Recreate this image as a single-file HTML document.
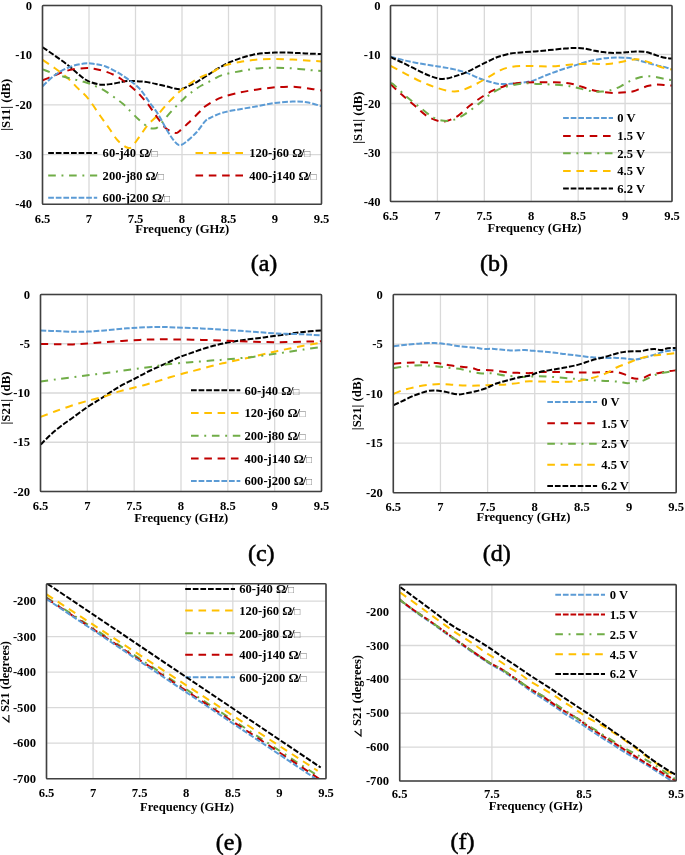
<!DOCTYPE html>
<html><head><meta charset="utf-8"><style>
html,body{margin:0;padding:0;background:#fff;}
svg{display:block;will-change:transform;}
.t{font-family:"Liberation Serif", serif;font-weight:bold;font-size:12.6px;fill:#000;}
.cap{font-family:"Liberation Serif", serif;font-size:24px;fill:#000;stroke:#000;stroke-width:0.55px;}
.sq{font-size:10px;font-weight:normal;fill:#707070;}
.yt{font-family:"Liberation Serif", serif;font-weight:bold;font-size:12.8px;fill:#000;}
</style></head><body>
<svg width="685" height="855" viewBox="0 0 685 855">
<rect width="685" height="855" fill="#fff"/>
<clipPath id="c1"><rect x="42.5" y="5.5" width="279.0" height="198.8"/></clipPath>
<line x1="42.50" y1="5.5" x2="42.50" y2="204.3" stroke="#d9d9d9" stroke-width="1.3"/>
<line x1="89.00" y1="5.5" x2="89.00" y2="204.3" stroke="#d9d9d9" stroke-width="1.3"/>
<line x1="135.50" y1="5.5" x2="135.50" y2="204.3" stroke="#d9d9d9" stroke-width="1.3"/>
<line x1="182.00" y1="5.5" x2="182.00" y2="204.3" stroke="#d9d9d9" stroke-width="1.3"/>
<line x1="228.50" y1="5.5" x2="228.50" y2="204.3" stroke="#d9d9d9" stroke-width="1.3"/>
<line x1="275.00" y1="5.5" x2="275.00" y2="204.3" stroke="#d9d9d9" stroke-width="1.3"/>
<line x1="321.50" y1="5.5" x2="321.50" y2="204.3" stroke="#d9d9d9" stroke-width="1.3"/>
<line x1="42.5" y1="5.50" x2="321.5" y2="5.50" stroke="#d9d9d9" stroke-width="1.3"/>
<line x1="42.5" y1="55.20" x2="321.5" y2="55.20" stroke="#d9d9d9" stroke-width="1.3"/>
<line x1="42.5" y1="104.90" x2="321.5" y2="104.90" stroke="#d9d9d9" stroke-width="1.3"/>
<line x1="42.5" y1="154.60" x2="321.5" y2="154.60" stroke="#d9d9d9" stroke-width="1.3"/>
<line x1="42.5" y1="204.30" x2="321.5" y2="204.30" stroke="#d9d9d9" stroke-width="1.3"/>
<line x1="48.2" y1="153" x2="97.2" y2="153" stroke="#000000" stroke-width="2.0" stroke-dasharray="5.70,1.90"/>
<text x="102.6" y="157.30" class="t">60-j40 Ω<tspan dx="-1.2">/</tspan><tspan class="sq" dx="-0.3">□</tspan></text>
<line x1="195.5" y1="153" x2="243.2" y2="153" stroke="#FFC000" stroke-width="2.0" stroke-dasharray="7.60,5.70"/>
<text x="249.2" y="157.30" class="t">120-j60 Ω<tspan dx="-1.2">/</tspan><tspan class="sq" dx="-0.3">□</tspan></text>
<line x1="48.2" y1="175.4" x2="97.2" y2="175.4" stroke="#70AD47" stroke-width="2.0" stroke-dasharray="7.60,5.70,1.90,5.70"/>
<text x="102.6" y="179.70" class="t">200-j80 Ω<tspan dx="-1.2">/</tspan><tspan class="sq" dx="-0.3">□</tspan></text>
<line x1="195.5" y1="175.4" x2="243.2" y2="175.4" stroke="#C00000" stroke-width="2.0" stroke-dasharray="7.60,5.70"/>
<text x="249.2" y="179.70" class="t">400-j140 Ω<tspan dx="-1.2">/</tspan><tspan class="sq" dx="-0.3">□</tspan></text>
<line x1="48.2" y1="197.7" x2="97.2" y2="197.7" stroke="#5B9BD5" stroke-width="2.0" stroke-dasharray="5.70,1.90"/>
<text x="102.6" y="202.00" class="t">600-j200 Ω<tspan dx="-1.2">/</tspan><tspan class="sq" dx="-0.3">□</tspan></text>
<path d="M42.60,47.20C44.60,48.58 50.42,52.53 54.60,55.50C58.78,58.47 63.80,61.95 67.70,65.00C71.60,68.05 74.58,71.12 78.00,73.80C81.42,76.48 84.32,79.28 88.20,81.10C92.08,82.92 97.17,84.27 101.30,84.70C105.43,85.13 108.62,84.30 113.00,83.70C117.38,83.10 122.33,81.42 127.60,81.10C132.87,80.78 139.33,81.20 144.60,81.80C149.87,82.40 154.82,83.73 159.20,84.70C163.58,85.67 167.85,86.88 170.90,87.60C173.95,88.32 175.57,88.80 177.50,89.00C179.43,89.20 180.58,89.33 182.50,88.80C184.42,88.27 186.55,86.97 189.00,85.80C191.45,84.63 194.13,83.55 197.20,81.80C200.27,80.05 204.00,77.48 207.40,75.30C210.80,73.12 214.17,70.75 217.60,68.70C221.03,66.65 224.27,64.72 228.00,63.00C231.73,61.28 235.95,59.75 240.00,58.40C244.05,57.05 248.22,55.78 252.30,54.90C256.38,54.02 260.72,53.48 264.50,53.10C268.28,52.72 271.20,52.68 275.00,52.60C278.80,52.52 283.20,52.52 287.30,52.60C291.40,52.68 295.82,52.92 299.60,53.10C303.38,53.28 306.35,53.55 310.00,53.70C313.65,53.85 319.58,53.95 321.50,54.00" fill="none" stroke="#000000" stroke-width="2.0" stroke-dasharray="5.70,1.90" clip-path="url(#c1)"/>
<path d="M42.60,59.90C44.60,61.25 50.42,64.95 54.60,68.00C58.78,71.05 63.80,74.80 67.70,78.20C71.60,81.60 74.58,85.00 78.00,88.40C81.42,91.80 84.45,93.95 88.20,98.60C91.95,103.25 96.98,111.32 100.50,116.30C104.02,121.28 106.38,124.42 109.30,128.50C112.22,132.58 114.93,137.58 118.00,140.80C121.07,144.02 125.28,146.93 127.70,147.80C130.12,148.67 130.62,147.75 132.50,146.00C134.38,144.25 136.45,140.80 139.00,137.30C141.55,133.80 144.88,128.50 147.80,125.00C150.72,121.50 153.30,119.80 156.50,116.30C159.70,112.80 163.38,107.92 167.00,104.00C170.62,100.08 174.63,96.02 178.20,92.80C181.77,89.58 184.77,87.27 188.40,84.70C192.03,82.13 195.87,79.58 200.00,77.40C204.13,75.22 209.45,73.45 213.20,71.60C216.95,69.75 218.03,67.92 222.50,66.30C226.97,64.68 234.17,63.02 240.00,61.90C245.83,60.78 251.67,60.10 257.50,59.60C263.33,59.10 269.15,58.90 275.00,58.90C280.85,58.90 286.77,59.30 292.60,59.60C298.43,59.90 305.18,60.40 310.00,60.70C314.82,61.00 319.58,61.28 321.50,61.40" fill="none" stroke="#FFC000" stroke-width="2.0" stroke-dasharray="7.60,5.70" clip-path="url(#c1)"/>
<path d="M42.60,69.40C44.60,70.13 50.17,72.33 54.60,73.80C59.03,75.27 64.33,76.87 69.20,78.20C74.07,79.53 79.42,80.47 83.80,81.80C88.18,83.13 91.85,84.62 95.50,86.20C99.15,87.78 102.23,89.20 105.70,91.30C109.17,93.40 113.38,96.68 116.30,98.80C119.22,100.92 121.17,102.25 123.20,104.00C125.23,105.75 125.87,106.67 128.50,109.30C131.13,111.93 135.78,116.88 139.00,119.80C142.22,122.72 145.47,125.35 147.80,126.80C150.13,128.25 151.25,128.50 153.00,128.50C154.75,128.50 155.97,128.83 158.30,126.80C160.63,124.77 164.08,119.67 167.00,116.30C169.92,112.93 172.87,109.67 175.80,106.60C178.73,103.53 181.77,100.45 184.60,97.90C187.43,95.35 189.98,93.37 192.80,91.30C195.62,89.23 198.33,87.32 201.50,85.50C204.67,83.68 208.30,82.15 211.80,80.40C215.30,78.65 217.80,76.53 222.50,75.00C227.20,73.47 234.17,72.30 240.00,71.20C245.83,70.10 251.67,68.98 257.50,68.40C263.33,67.82 269.15,67.70 275.00,67.70C280.85,67.70 286.77,68.00 292.60,68.40C298.43,68.80 305.18,69.67 310.00,70.10C314.82,70.53 319.58,70.85 321.50,71.00" fill="none" stroke="#70AD47" stroke-width="2.0" stroke-dasharray="7.60,5.70,1.90,5.70" clip-path="url(#c1)"/>
<path d="M42.60,80.40C44.60,79.55 50.17,77.02 54.60,75.30C59.03,73.58 64.33,71.28 69.20,70.10C74.07,68.92 79.67,68.43 83.80,68.20C87.93,67.97 90.35,68.13 94.00,68.70C97.65,69.27 101.80,70.27 105.70,71.60C109.60,72.93 113.75,74.63 117.40,76.70C121.05,78.77 124.68,81.80 127.60,84.00C130.52,86.20 132.95,88.20 134.90,89.90C136.85,91.60 137.15,91.85 139.30,94.20C141.45,96.55 144.93,100.32 147.80,104.00C150.67,107.68 153.58,112.35 156.50,116.30C159.42,120.25 162.22,124.93 165.30,127.70C168.38,130.47 172.67,132.32 175.00,132.90C177.33,133.48 177.13,132.80 179.30,131.20C181.47,129.60 184.78,126.37 188.00,123.30C191.22,120.23 195.77,115.60 198.60,112.80C201.43,110.00 202.32,108.55 205.00,106.50C207.68,104.45 211.63,102.12 214.70,100.50C217.77,98.88 219.18,98.13 223.40,96.80C227.62,95.47 234.32,93.73 240.00,92.50C245.68,91.27 251.67,90.27 257.50,89.40C263.33,88.53 270.62,87.72 275.00,87.30C279.38,86.88 280.30,86.97 283.80,86.90C287.30,86.83 291.63,86.60 296.00,86.90C300.37,87.20 305.75,88.12 310.00,88.70C314.25,89.28 319.58,90.12 321.50,90.40" fill="none" stroke="#C00000" stroke-width="2.0" stroke-dasharray="7.60,5.70" clip-path="url(#c1)"/>
<path d="M42.60,86.20C44.60,84.38 50.17,78.47 54.60,75.30C59.03,72.13 64.33,69.15 69.20,67.20C74.07,65.25 79.67,64.15 83.80,63.60C87.93,63.05 90.35,63.42 94.00,63.90C97.65,64.38 101.80,65.10 105.70,66.50C109.60,67.90 113.75,70.23 117.40,72.30C121.05,74.37 123.95,76.22 127.60,78.90C131.25,81.58 135.65,84.50 139.30,88.40C142.95,92.30 146.33,97.95 149.50,102.30C152.67,106.65 155.38,109.83 158.30,114.50C161.22,119.17 164.37,125.92 167.00,130.30C169.63,134.68 172.05,138.32 174.10,140.80C176.15,143.28 177.27,145.05 179.30,145.20C181.33,145.35 183.38,143.90 186.30,141.70C189.22,139.50 193.68,135.38 196.80,132.00C199.92,128.62 202.80,123.73 205.00,121.40C207.20,119.07 207.08,119.45 210.00,118.00C212.92,116.55 217.50,114.17 222.50,112.70C227.50,111.23 234.17,110.28 240.00,109.20C245.83,108.12 251.67,107.23 257.50,106.20C263.33,105.17 269.15,103.77 275.00,103.00C280.85,102.23 287.33,101.73 292.60,101.60C297.87,101.47 301.78,101.43 306.60,102.20C311.42,102.97 319.02,105.53 321.50,106.20" fill="none" stroke="#5B9BD5" stroke-width="2.0" stroke-dasharray="5.70,1.90" clip-path="url(#c1)"/>
<rect x="42.5" y="5.5" width="279.0" height="198.8" fill="none" stroke="#404040" stroke-width="1.6" rx="0.8"/>
<text x="42.50" y="222.5" class="t" text-anchor="middle">6.5</text>
<text x="89.00" y="222.5" class="t" text-anchor="middle">7</text>
<text x="135.50" y="222.5" class="t" text-anchor="middle">7.5</text>
<text x="182.00" y="222.5" class="t" text-anchor="middle">8</text>
<text x="228.50" y="222.5" class="t" text-anchor="middle">8.5</text>
<text x="275.00" y="222.5" class="t" text-anchor="middle">9</text>
<text x="321.50" y="222.5" class="t" text-anchor="middle">9.5</text>
<text x="32" y="9.60" class="t" text-anchor="end">0</text>
<text x="32" y="59.30" class="t" text-anchor="end">-10</text>
<text x="32" y="109.00" class="t" text-anchor="end">-20</text>
<text x="32" y="158.70" class="t" text-anchor="end">-30</text>
<text x="32" y="208.40" class="t" text-anchor="end">-40</text>
<text x="182.2" y="232.8" class="t" text-anchor="middle">Frequency (GHz)</text>
<text transform="translate(10,104.75) rotate(-90)" class="yt" text-anchor="middle">|S11| (dB)</text>
<text x="264" y="271" class="cap" text-anchor="middle">(a)</text>
<clipPath id="c2"><rect x="390.5" y="5.5" width="281.5" height="196.0"/></clipPath>
<line x1="390.50" y1="5.5" x2="390.50" y2="201.5" stroke="#d9d9d9" stroke-width="1.3"/>
<line x1="437.42" y1="5.5" x2="437.42" y2="201.5" stroke="#d9d9d9" stroke-width="1.3"/>
<line x1="484.33" y1="5.5" x2="484.33" y2="201.5" stroke="#d9d9d9" stroke-width="1.3"/>
<line x1="531.25" y1="5.5" x2="531.25" y2="201.5" stroke="#d9d9d9" stroke-width="1.3"/>
<line x1="578.17" y1="5.5" x2="578.17" y2="201.5" stroke="#d9d9d9" stroke-width="1.3"/>
<line x1="625.08" y1="5.5" x2="625.08" y2="201.5" stroke="#d9d9d9" stroke-width="1.3"/>
<line x1="672.00" y1="5.5" x2="672.00" y2="201.5" stroke="#d9d9d9" stroke-width="1.3"/>
<line x1="390.5" y1="5.50" x2="672" y2="5.50" stroke="#d9d9d9" stroke-width="1.3"/>
<line x1="390.5" y1="54.50" x2="672" y2="54.50" stroke="#d9d9d9" stroke-width="1.3"/>
<line x1="390.5" y1="103.50" x2="672" y2="103.50" stroke="#d9d9d9" stroke-width="1.3"/>
<line x1="390.5" y1="152.50" x2="672" y2="152.50" stroke="#d9d9d9" stroke-width="1.3"/>
<line x1="390.5" y1="201.50" x2="672" y2="201.50" stroke="#d9d9d9" stroke-width="1.3"/>
<line x1="563.1" y1="118.1" x2="613" y2="118.1" stroke="#5B9BD5" stroke-width="2.0" stroke-dasharray="5.70,1.90"/>
<text x="617.3" y="122.40" class="t">0 V</text>
<line x1="563.1" y1="136" x2="613" y2="136" stroke="#C00000" stroke-width="2.0" stroke-dasharray="7.60,5.70"/>
<text x="617.3" y="140.30" class="t">1.5 V</text>
<line x1="563.1" y1="153.2" x2="613" y2="153.2" stroke="#70AD47" stroke-width="2.0" stroke-dasharray="7.60,5.70,1.90,5.70"/>
<text x="617.3" y="157.50" class="t">2.5 V</text>
<line x1="563.1" y1="171" x2="613" y2="171" stroke="#FFC000" stroke-width="2.0" stroke-dasharray="7.60,5.70"/>
<text x="617.3" y="175.30" class="t">4.5 V</text>
<line x1="563.1" y1="188.5" x2="613" y2="188.5" stroke="#000000" stroke-width="2.0" stroke-dasharray="5.70,1.90"/>
<text x="617.3" y="192.80" class="t">6.2 V</text>
<path d="M390.60,56.60C393.08,57.27 400.10,59.35 405.50,60.60C410.90,61.85 417.17,63.07 423.00,64.10C428.83,65.13 435.25,65.92 440.50,66.80C445.75,67.68 450.12,68.38 454.50,69.40C458.88,70.42 462.72,71.43 466.80,72.90C470.88,74.37 475.20,76.73 479.00,78.20C482.80,79.67 486.08,80.73 489.60,81.70C493.12,82.67 496.03,83.72 500.10,84.00C504.17,84.28 508.77,83.88 514.00,83.40C519.23,82.92 526.25,82.42 531.50,81.10C536.75,79.78 540.83,77.30 545.50,75.50C550.17,73.70 554.82,71.90 559.50,70.30C564.18,68.70 568.92,67.37 573.60,65.90C578.28,64.43 582.87,62.72 587.60,61.50C592.33,60.28 598.23,59.22 602.00,58.60C605.77,57.98 607.47,57.98 610.20,57.80C612.93,57.62 615.68,57.50 618.40,57.50C621.12,57.50 623.98,57.57 626.50,57.80C629.02,58.03 630.97,58.32 633.50,58.90C636.03,59.48 638.97,60.52 641.70,61.30C644.43,62.08 647.18,62.88 649.90,63.60C652.62,64.32 655.48,65.02 658.00,65.60C660.52,66.18 662.67,66.45 665.00,67.10C667.33,67.75 670.83,69.10 672.00,69.50" fill="none" stroke="#5B9BD5" stroke-width="2.0" stroke-dasharray="5.70,1.90" clip-path="url(#c2)"/>
<path d="M390.60,84.30C392.50,86.05 398.05,91.30 402.00,94.80C405.95,98.30 410.22,101.80 414.30,105.30C418.38,108.80 422.42,113.17 426.50,115.80C430.58,118.43 435.30,120.28 438.80,121.10C442.30,121.92 444.30,121.58 447.50,120.70C450.70,119.82 454.20,118.37 458.00,115.80C461.80,113.23 466.20,108.52 470.30,105.30C474.40,102.08 478.80,98.98 482.60,96.50C486.40,94.02 489.87,91.98 493.10,90.40C496.33,88.82 499.10,88.02 502.00,87.00C504.90,85.98 506.75,85.05 510.50,84.30C514.25,83.55 519.83,82.85 524.50,82.50C529.17,82.15 533.83,82.25 538.50,82.20C543.17,82.15 547.83,82.08 552.50,82.20C557.17,82.32 562.42,82.40 566.50,82.90C570.58,83.40 573.48,84.23 577.00,85.20C580.52,86.17 584.10,87.68 587.60,88.70C591.10,89.72 594.23,90.62 598.00,91.30C601.77,91.98 606.80,92.55 610.20,92.80C613.60,93.05 615.68,92.90 618.40,92.80C621.12,92.70 623.98,92.45 626.50,92.20C629.02,91.95 630.97,91.98 633.50,91.30C636.03,90.62 639.17,89.02 641.70,88.10C644.23,87.18 646.37,86.38 648.70,85.80C651.03,85.22 653.17,84.73 655.70,84.60C658.23,84.47 661.18,84.85 663.90,85.00C666.62,85.15 670.65,85.42 672.00,85.50" fill="none" stroke="#C00000" stroke-width="2.0" stroke-dasharray="7.60,5.70" clip-path="url(#c2)"/>
<path d="M390.60,83.50C391.05,83.63 390.82,82.27 393.30,84.30C395.78,86.33 401.13,91.92 405.50,95.70C409.87,99.48 414.83,103.35 419.50,107.00C424.17,110.65 429.42,115.32 433.50,117.60C437.58,119.88 440.78,120.27 444.00,120.70C447.22,121.13 449.30,121.30 452.80,120.20C456.30,119.10 460.63,116.87 465.00,114.10C469.37,111.33 474.90,106.82 479.00,103.60C483.10,100.38 486.08,97.28 489.60,94.80C493.12,92.32 496.62,90.22 500.10,88.70C503.58,87.18 506.43,86.58 510.50,85.70C514.57,84.82 519.83,83.70 524.50,83.40C529.17,83.10 533.83,83.70 538.50,83.90C543.17,84.10 547.83,84.30 552.50,84.60C557.17,84.90 562.42,85.17 566.50,85.70C570.58,86.23 573.48,87.02 577.00,87.80C580.52,88.58 584.60,89.77 587.60,90.40C590.60,91.03 592.60,91.40 595.00,91.60C597.40,91.80 599.67,91.78 602.00,91.60C604.33,91.42 606.67,91.02 609.00,90.50C611.33,89.98 613.67,89.42 616.00,88.50C618.33,87.58 620.67,86.23 623.00,85.00C625.33,83.77 627.67,82.23 630.00,81.10C632.33,79.97 634.67,78.97 637.00,78.20C639.33,77.43 641.47,76.78 644.00,76.50C646.53,76.22 649.47,76.25 652.20,76.50C654.93,76.75 657.87,77.52 660.40,78.00C662.93,78.48 665.47,79.07 667.40,79.40C669.33,79.73 671.23,79.90 672.00,80.00" fill="none" stroke="#70AD47" stroke-width="2.0" stroke-dasharray="7.60,5.70,1.90,5.70" clip-path="url(#c2)"/>
<path d="M390.60,65.90C393.08,67.22 400.10,71.03 405.50,73.80C410.90,76.57 417.75,80.17 423.00,82.50C428.25,84.83 432.33,86.33 437.00,87.80C441.67,89.27 446.90,90.87 451.00,91.30C455.10,91.73 457.50,91.57 461.60,90.40C465.70,89.23 470.93,86.63 475.60,84.30C480.27,81.97 485.52,78.73 489.60,76.40C493.68,74.07 496.62,71.85 500.10,70.30C503.58,68.75 506.43,67.83 510.50,67.10C514.57,66.37 519.83,66.03 524.50,65.90C529.17,65.77 533.83,66.23 538.50,66.30C543.17,66.37 547.83,66.52 552.50,66.30C557.17,66.08 562.42,65.37 566.50,65.00C570.58,64.63 572.92,64.33 577.00,64.10C581.08,63.87 586.45,63.58 591.00,63.60C595.55,63.62 600.72,64.23 604.30,64.20C607.88,64.17 609.77,63.75 612.50,63.40C615.23,63.05 617.97,62.65 620.70,62.10C623.43,61.55 626.18,60.57 628.90,60.10C631.62,59.63 634.48,59.20 637.00,59.30C639.52,59.40 641.65,60.08 644.00,60.70C646.35,61.32 648.77,62.12 651.10,63.00C653.43,63.88 655.68,65.12 658.00,66.00C660.32,66.88 662.67,67.72 665.00,68.30C667.33,68.88 670.83,69.30 672.00,69.50" fill="none" stroke="#FFC000" stroke-width="2.0" stroke-dasharray="7.60,5.70" clip-path="url(#c2)"/>
<path d="M390.60,57.10C392.50,57.98 397.77,60.35 402.00,62.40C406.23,64.45 411.33,67.15 416.00,69.40C420.67,71.65 425.62,74.30 430.00,75.90C434.38,77.50 438.22,78.92 442.30,79.00C446.38,79.08 450.42,77.57 454.50,76.40C458.58,75.23 462.42,73.90 466.80,72.00C471.18,70.10 476.42,67.18 480.80,65.00C485.18,62.82 489.90,60.35 493.10,58.90C496.30,57.45 497.10,57.18 500.00,56.30C502.90,55.42 507.00,54.25 510.50,53.60C514.00,52.95 516.92,52.77 521.00,52.40C525.08,52.03 530.33,51.78 535.00,51.40C539.67,51.02 544.33,50.55 549.00,50.10C553.67,49.65 558.90,49.05 563.00,48.70C567.10,48.35 570.10,48.05 573.60,48.00C577.10,47.95 580.43,47.93 584.00,48.40C587.57,48.87 592.00,50.22 595.00,50.80C598.00,51.38 599.47,51.57 602.00,51.90C604.53,52.23 607.47,52.65 610.20,52.80C612.93,52.95 615.68,52.88 618.40,52.80C621.12,52.72 623.58,52.53 626.50,52.30C629.42,52.07 632.78,51.47 635.90,51.40C639.02,51.33 642.28,51.42 645.20,51.90C648.12,52.38 650.87,53.52 653.40,54.30C655.93,55.08 658.07,55.97 660.40,56.60C662.73,57.23 665.47,57.77 667.40,58.10C669.33,58.43 671.23,58.52 672.00,58.60" fill="none" stroke="#000000" stroke-width="2.0" stroke-dasharray="5.70,1.90" clip-path="url(#c2)"/>
<rect x="390.5" y="5.5" width="281.5" height="196.0" fill="none" stroke="#404040" stroke-width="1.6" rx="0.8"/>
<text x="390.50" y="220.2" class="t" text-anchor="middle">6.5</text>
<text x="437.42" y="220.2" class="t" text-anchor="middle">7</text>
<text x="484.33" y="220.2" class="t" text-anchor="middle">7.5</text>
<text x="531.25" y="220.2" class="t" text-anchor="middle">8</text>
<text x="578.17" y="220.2" class="t" text-anchor="middle">8.5</text>
<text x="625.08" y="220.2" class="t" text-anchor="middle">9</text>
<text x="672.00" y="220.2" class="t" text-anchor="middle">9.5</text>
<text x="380.5" y="9.60" class="t" text-anchor="end">0</text>
<text x="380.5" y="58.60" class="t" text-anchor="end">-10</text>
<text x="380.5" y="107.60" class="t" text-anchor="end">-20</text>
<text x="380.5" y="156.60" class="t" text-anchor="end">-30</text>
<text x="380.5" y="205.60" class="t" text-anchor="end">-40</text>
<text x="534.4" y="232" class="t" text-anchor="middle">Frequency (GHz)</text>
<text transform="translate(362,117.6) rotate(-90)" class="yt" text-anchor="middle">|S11| (dB)</text>
<text x="494" y="270.6" class="cap" text-anchor="middle">(b)</text>
<clipPath id="c3"><rect x="40.5" y="294.5" width="281.0" height="197.0"/></clipPath>
<line x1="40.50" y1="294.5" x2="40.50" y2="491.5" stroke="#d9d9d9" stroke-width="1.3"/>
<line x1="87.33" y1="294.5" x2="87.33" y2="491.5" stroke="#d9d9d9" stroke-width="1.3"/>
<line x1="134.17" y1="294.5" x2="134.17" y2="491.5" stroke="#d9d9d9" stroke-width="1.3"/>
<line x1="181.00" y1="294.5" x2="181.00" y2="491.5" stroke="#d9d9d9" stroke-width="1.3"/>
<line x1="227.83" y1="294.5" x2="227.83" y2="491.5" stroke="#d9d9d9" stroke-width="1.3"/>
<line x1="274.67" y1="294.5" x2="274.67" y2="491.5" stroke="#d9d9d9" stroke-width="1.3"/>
<line x1="321.50" y1="294.5" x2="321.50" y2="491.5" stroke="#d9d9d9" stroke-width="1.3"/>
<line x1="40.5" y1="294.50" x2="321.5" y2="294.50" stroke="#d9d9d9" stroke-width="1.3"/>
<line x1="40.5" y1="343.75" x2="321.5" y2="343.75" stroke="#d9d9d9" stroke-width="1.3"/>
<line x1="40.5" y1="393.00" x2="321.5" y2="393.00" stroke="#d9d9d9" stroke-width="1.3"/>
<line x1="40.5" y1="442.25" x2="321.5" y2="442.25" stroke="#d9d9d9" stroke-width="1.3"/>
<line x1="40.5" y1="491.50" x2="321.5" y2="491.50" stroke="#d9d9d9" stroke-width="1.3"/>
<line x1="191" y1="390.3" x2="240.3" y2="390.3" stroke="#000000" stroke-width="2.0" stroke-dasharray="5.70,1.90"/>
<text x="244.5" y="394.60" class="t">60-j40 Ω<tspan dx="-1.2">/</tspan><tspan class="sq" dx="-0.3">□</tspan></text>
<line x1="191" y1="412.9" x2="240.3" y2="412.9" stroke="#FFC000" stroke-width="2.0" stroke-dasharray="7.60,5.70"/>
<text x="244.5" y="417.20" class="t">120-j60 Ω<tspan dx="-1.2">/</tspan><tspan class="sq" dx="-0.3">□</tspan></text>
<line x1="191" y1="435.8" x2="240.3" y2="435.8" stroke="#70AD47" stroke-width="2.0" stroke-dasharray="7.60,5.70,1.90,5.70"/>
<text x="244.5" y="440.10" class="t">200-j80 Ω<tspan dx="-1.2">/</tspan><tspan class="sq" dx="-0.3">□</tspan></text>
<line x1="191" y1="458.5" x2="240.3" y2="458.5" stroke="#C00000" stroke-width="2.0" stroke-dasharray="7.60,5.70"/>
<text x="244.5" y="462.80" class="t">400-j140 Ω<tspan dx="-1.2">/</tspan><tspan class="sq" dx="-0.3">□</tspan></text>
<line x1="191" y1="480.9" x2="240.3" y2="480.9" stroke="#5B9BD5" stroke-width="2.0" stroke-dasharray="5.70,1.90"/>
<text x="244.5" y="485.20" class="t">600-j200 Ω<tspan dx="-1.2">/</tspan><tspan class="sq" dx="-0.3">□</tspan></text>
<path d="M40.60,444.60C42.22,443.00 46.93,438.07 50.30,435.00C53.67,431.93 57.02,429.12 60.80,426.20C64.58,423.28 68.63,420.65 73.00,417.50C77.37,414.35 82.50,410.35 87.00,407.30C91.50,404.25 96.08,401.72 100.00,399.20C103.92,396.68 107.00,394.45 110.50,392.20C114.00,389.95 117.05,387.90 121.00,385.70C124.95,383.50 130.12,381.13 134.20,379.00C138.28,376.87 141.57,374.88 145.50,372.90C149.43,370.92 153.72,369.00 157.80,367.10C161.88,365.20 166.20,363.25 170.00,361.50C173.80,359.75 177.27,357.95 180.60,356.60C183.93,355.25 186.48,354.62 190.00,353.40C193.52,352.18 197.80,350.57 201.70,349.30C205.60,348.03 209.52,346.83 213.40,345.80C217.28,344.77 221.12,343.88 225.00,343.10C228.88,342.32 232.80,341.73 236.70,341.10C240.60,340.47 244.52,339.83 248.40,339.30C252.28,338.77 256.40,338.35 260.00,337.90C263.60,337.45 265.83,337.17 270.00,336.60C274.17,336.03 279.45,335.28 285.00,334.50C290.55,333.72 297.22,332.58 303.30,331.90C309.38,331.22 318.47,330.65 321.50,330.40" fill="none" stroke="#000000" stroke-width="2.0" stroke-dasharray="5.70,1.90" clip-path="url(#c3)"/>
<path d="M40.60,416.90C43.08,415.97 50.10,413.25 55.50,411.30C60.90,409.35 67.17,407.08 73.00,405.20C78.83,403.32 85.12,401.50 90.50,400.00C95.88,398.50 100.80,397.55 105.30,396.20C109.80,394.85 113.42,393.15 117.50,391.90C121.58,390.65 125.42,389.82 129.80,388.70C134.18,387.58 139.13,386.47 143.80,385.20C148.47,383.93 153.43,382.42 157.80,381.10C162.17,379.78 165.63,378.60 170.00,377.30C174.37,376.00 180.08,374.37 184.00,373.30C187.92,372.23 189.38,371.98 193.50,370.90C197.62,369.82 203.83,368.07 208.70,366.80C213.57,365.53 218.23,364.33 222.70,363.30C227.17,362.27 231.22,361.53 235.50,360.60C239.78,359.67 243.92,358.72 248.40,357.70C252.88,356.68 257.52,355.63 262.40,354.50C267.28,353.37 270.88,352.35 277.70,350.90C284.52,349.45 296.00,347.17 303.30,345.80C310.60,344.43 318.47,343.22 321.50,342.70" fill="none" stroke="#FFC000" stroke-width="2.0" stroke-dasharray="7.60,5.70" clip-path="url(#c3)"/>
<path d="M40.60,381.50C43.08,381.15 50.10,380.12 55.50,379.40C60.90,378.68 67.17,377.95 73.00,377.20C78.83,376.45 84.67,375.63 90.50,374.90C96.33,374.17 102.15,373.58 108.00,372.80C113.85,372.02 119.75,371.02 125.60,370.20C131.45,369.38 137.70,368.63 143.10,367.90C148.50,367.17 153.52,366.43 158.00,365.80C162.48,365.17 165.07,364.67 170.00,364.10C174.93,363.53 182.72,362.82 187.60,362.40C192.48,361.98 195.40,361.90 199.30,361.60C203.20,361.30 207.48,360.88 211.00,360.60C214.52,360.32 217.08,360.17 220.40,359.90C223.72,359.63 227.40,359.32 230.90,359.00C234.40,358.68 237.72,358.35 241.40,358.00C245.08,357.65 248.23,357.48 253.00,356.90C257.77,356.32 264.50,355.27 270.00,354.50C275.50,353.73 280.45,353.12 286.00,352.30C291.55,351.48 297.38,350.48 303.30,349.60C309.22,348.72 318.47,347.43 321.50,347.00" fill="none" stroke="#70AD47" stroke-width="2.0" stroke-dasharray="7.60,5.70,1.90,5.70" clip-path="url(#c3)"/>
<path d="M40.60,343.90C43.08,343.95 50.10,344.12 55.50,344.20C60.90,344.28 67.65,344.52 73.00,344.40C78.35,344.28 82.35,343.88 87.60,343.50C92.85,343.12 98.77,342.53 104.50,342.10C110.23,341.67 116.15,341.27 122.00,340.90C127.85,340.53 134.33,340.15 139.60,339.90C144.87,339.65 147.62,339.48 153.60,339.40C159.58,339.32 167.58,339.32 175.50,339.40C183.42,339.48 192.58,339.68 201.10,339.90C209.62,340.12 218.08,340.40 226.60,340.70C235.12,341.00 243.68,341.45 252.20,341.70C260.72,341.95 269.18,342.20 277.70,342.20C286.22,342.20 296.00,341.87 303.30,341.70C310.60,341.53 318.47,341.28 321.50,341.20" fill="none" stroke="#C00000" stroke-width="2.0" stroke-dasharray="7.60,5.70" clip-path="url(#c3)"/>
<path d="M40.60,330.40C43.08,330.52 50.10,330.87 55.50,331.10C60.90,331.33 67.65,331.72 73.00,331.80C78.35,331.88 82.35,331.83 87.60,331.60C92.85,331.37 98.77,330.88 104.50,330.40C110.23,329.92 116.15,329.17 122.00,328.70C127.85,328.23 133.60,327.90 139.60,327.60C145.60,327.30 152.02,326.93 158.00,326.90C163.98,326.87 168.32,327.15 175.50,327.40C182.68,327.65 192.58,327.98 201.10,328.40C209.62,328.82 218.08,329.35 226.60,329.90C235.12,330.45 243.68,331.10 252.20,331.70C260.72,332.30 269.18,333.07 277.70,333.50C286.22,333.93 296.00,333.97 303.30,334.30C310.60,334.63 318.47,335.30 321.50,335.50" fill="none" stroke="#5B9BD5" stroke-width="2.0" stroke-dasharray="5.70,1.90" clip-path="url(#c3)"/>
<rect x="40.5" y="294.5" width="281.0" height="197.0" fill="none" stroke="#404040" stroke-width="1.6" rx="0.8"/>
<text x="40.50" y="509.8" class="t" text-anchor="middle">6.5</text>
<text x="87.33" y="509.8" class="t" text-anchor="middle">7</text>
<text x="134.17" y="509.8" class="t" text-anchor="middle">7.5</text>
<text x="181.00" y="509.8" class="t" text-anchor="middle">8</text>
<text x="227.83" y="509.8" class="t" text-anchor="middle">8.5</text>
<text x="274.67" y="509.8" class="t" text-anchor="middle">9</text>
<text x="321.50" y="509.8" class="t" text-anchor="middle">9.5</text>
<text x="30" y="298.60" class="t" text-anchor="end">0</text>
<text x="30" y="347.85" class="t" text-anchor="end">-5</text>
<text x="30" y="397.10" class="t" text-anchor="end">-10</text>
<text x="30" y="446.35" class="t" text-anchor="end">-15</text>
<text x="30" y="495.60" class="t" text-anchor="end">-20</text>
<text x="181.3" y="522" class="t" text-anchor="middle">Frequency (GHz)</text>
<text transform="translate(10,398) rotate(-90)" class="yt" text-anchor="middle">|S21| (dB)</text>
<text x="261.3" y="560.5" class="cap" text-anchor="middle">(c)</text>
<clipPath id="c4"><rect x="393.3" y="294.5" width="282.90000000000003" height="198.2"/></clipPath>
<line x1="393.30" y1="294.5" x2="393.30" y2="492.7" stroke="#d9d9d9" stroke-width="1.3"/>
<line x1="440.45" y1="294.5" x2="440.45" y2="492.7" stroke="#d9d9d9" stroke-width="1.3"/>
<line x1="487.60" y1="294.5" x2="487.60" y2="492.7" stroke="#d9d9d9" stroke-width="1.3"/>
<line x1="534.75" y1="294.5" x2="534.75" y2="492.7" stroke="#d9d9d9" stroke-width="1.3"/>
<line x1="581.90" y1="294.5" x2="581.90" y2="492.7" stroke="#d9d9d9" stroke-width="1.3"/>
<line x1="629.05" y1="294.5" x2="629.05" y2="492.7" stroke="#d9d9d9" stroke-width="1.3"/>
<line x1="676.20" y1="294.5" x2="676.20" y2="492.7" stroke="#d9d9d9" stroke-width="1.3"/>
<line x1="393.3" y1="294.50" x2="676.2" y2="294.50" stroke="#d9d9d9" stroke-width="1.3"/>
<line x1="393.3" y1="344.05" x2="676.2" y2="344.05" stroke="#d9d9d9" stroke-width="1.3"/>
<line x1="393.3" y1="393.60" x2="676.2" y2="393.60" stroke="#d9d9d9" stroke-width="1.3"/>
<line x1="393.3" y1="443.15" x2="676.2" y2="443.15" stroke="#d9d9d9" stroke-width="1.3"/>
<line x1="393.3" y1="492.70" x2="676.2" y2="492.70" stroke="#d9d9d9" stroke-width="1.3"/>
<line x1="547.3" y1="402" x2="597.1" y2="402" stroke="#5B9BD5" stroke-width="2.0" stroke-dasharray="5.70,1.90"/>
<text x="601.2" y="406.30" class="t">0 V</text>
<line x1="547.3" y1="423.2" x2="597.1" y2="423.2" stroke="#C00000" stroke-width="2.0" stroke-dasharray="7.60,5.70"/>
<text x="601.2" y="427.50" class="t">1.5 V</text>
<line x1="547.3" y1="443.8" x2="597.1" y2="443.8" stroke="#70AD47" stroke-width="2.0" stroke-dasharray="7.60,5.70,1.90,5.70"/>
<text x="601.2" y="448.10" class="t">2.5 V</text>
<line x1="547.3" y1="464.8" x2="597.1" y2="464.8" stroke="#FFC000" stroke-width="2.0" stroke-dasharray="7.60,5.70"/>
<text x="601.2" y="469.10" class="t">4.5 V</text>
<line x1="547.3" y1="485.9" x2="597.1" y2="485.9" stroke="#000000" stroke-width="2.0" stroke-dasharray="5.70,1.90"/>
<text x="601.2" y="490.20" class="t">6.2 V</text>
<path d="M393.70,346.30C395.80,346.03 401.80,345.17 406.30,344.70C410.80,344.23 415.92,343.77 420.70,343.50C425.48,343.23 430.58,342.97 435.00,343.10C439.42,343.23 443.12,343.77 447.20,344.30C451.28,344.83 455.42,345.78 459.50,346.30C463.58,346.82 468.63,347.12 471.70,347.40C474.77,347.68 475.85,347.73 477.90,348.00C479.95,348.27 481.62,348.87 484.00,349.00C486.38,349.13 489.47,348.70 492.20,348.80C494.93,348.90 497.00,349.33 500.40,349.60C503.80,349.87 508.50,350.32 512.60,350.40C516.70,350.48 520.70,349.97 525.00,350.10C529.30,350.23 533.93,350.83 538.40,351.20C542.87,351.57 547.33,351.82 551.80,352.30C556.27,352.78 560.73,353.53 565.20,354.10C569.67,354.67 574.13,355.17 578.60,355.70C583.07,356.23 587.53,356.93 592.00,357.30C596.47,357.67 601.30,357.80 605.40,357.90C609.50,358.00 613.25,357.78 616.60,357.90C619.95,358.02 622.53,358.33 625.50,358.60C628.47,358.87 631.42,359.62 634.40,359.50C637.38,359.38 640.03,358.72 643.40,357.90C646.77,357.08 650.88,355.72 654.60,354.60C658.32,353.48 661.98,352.02 665.70,351.20C669.42,350.38 675.03,349.95 676.90,349.70" fill="none" stroke="#5B9BD5" stroke-width="2.0" stroke-dasharray="5.70,1.90" clip-path="url(#c4)"/>
<path d="M393.70,363.70C395.80,363.53 401.47,362.93 406.30,362.70C411.13,362.47 417.58,362.23 422.70,362.30C427.82,362.37 432.57,362.62 437.00,363.10C441.43,363.58 445.22,364.58 449.30,365.20C453.38,365.82 457.77,366.37 461.50,366.80C465.23,367.23 468.97,367.28 471.70,367.80C474.43,368.32 475.50,369.55 477.90,369.90C480.30,370.25 483.03,369.73 486.10,369.90C489.17,370.07 492.57,370.47 496.30,370.90C500.03,371.33 504.42,372.17 508.50,372.50C512.58,372.83 517.22,372.80 520.80,372.90C524.38,373.00 527.07,373.25 530.00,373.10C532.93,372.95 534.77,372.18 538.40,372.00C542.03,371.82 547.33,372.00 551.80,372.00C556.27,372.00 560.73,371.93 565.20,372.00C569.67,372.07 574.13,372.33 578.60,372.40C583.07,372.47 587.53,372.47 592.00,372.40C596.47,372.33 601.30,372.07 605.40,372.00C609.50,371.93 613.25,371.55 616.60,372.00C619.95,372.45 622.90,373.70 625.50,374.70C628.10,375.70 630.33,377.33 632.20,378.00C634.07,378.67 634.83,378.70 636.70,378.70C638.57,378.70 641.17,378.67 643.40,378.00C645.63,377.33 647.50,375.55 650.10,374.70C652.70,373.85 656.02,373.47 659.00,372.90C661.98,372.33 665.02,371.75 668.00,371.30C670.98,370.85 675.42,370.38 676.90,370.20" fill="none" stroke="#C00000" stroke-width="2.0" stroke-dasharray="7.60,5.70" clip-path="url(#c4)"/>
<path d="M393.70,368.00C395.80,367.73 401.47,366.87 406.30,366.40C411.13,365.93 417.58,365.20 422.70,365.20C427.82,365.20 432.57,365.97 437.00,366.40C441.43,366.83 445.22,367.33 449.30,367.80C453.38,368.27 457.77,368.52 461.50,369.20C465.23,369.88 468.28,371.18 471.70,371.90C475.12,372.62 478.58,373.27 482.00,373.50C485.42,373.73 488.47,372.98 492.20,373.30C495.93,373.62 500.32,374.85 504.40,375.40C508.48,375.95 513.27,376.35 516.70,376.60C520.13,376.85 521.38,376.97 525.00,376.90C528.62,376.83 533.93,376.20 538.40,376.20C542.87,376.20 547.33,376.60 551.80,376.90C556.27,377.20 560.73,377.63 565.20,378.00C569.67,378.37 574.13,378.72 578.60,379.10C583.07,379.48 587.53,380.00 592.00,380.30C596.47,380.60 600.93,380.65 605.40,380.90C609.87,381.15 615.08,381.42 618.80,381.80C622.52,382.18 625.10,383.27 627.70,383.20C630.30,383.13 632.17,381.70 634.40,381.40C636.63,381.10 638.48,382.07 641.10,381.40C643.72,380.73 647.12,378.70 650.10,377.40C653.08,376.10 656.02,374.50 659.00,373.60C661.98,372.70 665.02,372.57 668.00,372.00C670.98,371.43 675.42,370.50 676.90,370.20" fill="none" stroke="#70AD47" stroke-width="2.0" stroke-dasharray="7.60,5.70,1.90,5.70" clip-path="url(#c4)"/>
<path d="M393.70,393.80C395.13,393.22 398.83,391.40 402.30,390.30C405.77,389.20 410.08,388.12 414.50,387.20C418.92,386.28 424.37,385.33 428.80,384.80C433.23,384.27 437.00,384.00 441.10,384.00C445.20,384.00 449.32,384.53 453.40,384.80C457.48,385.07 461.52,385.47 465.60,385.60C469.68,385.73 474.15,385.67 477.90,385.60C481.65,385.53 484.70,385.33 488.10,385.20C491.50,385.07 494.90,384.97 498.30,384.80C501.70,384.63 504.75,384.55 508.50,384.20C512.25,383.85 518.05,383.17 520.80,382.70C523.55,382.23 522.07,381.62 525.00,381.40C527.93,381.18 533.93,381.33 538.40,381.40C542.87,381.47 547.33,381.73 551.80,381.80C556.27,381.87 560.73,381.95 565.20,381.80C569.67,381.65 574.13,381.53 578.60,380.90C583.07,380.27 587.53,379.22 592.00,378.00C596.47,376.78 601.30,375.35 605.40,373.60C609.50,371.85 612.88,369.25 616.60,367.50C620.32,365.75 624.35,364.43 627.70,363.10C631.05,361.77 633.35,360.62 636.70,359.50C640.05,358.38 644.08,357.15 647.80,356.40C651.52,355.65 655.63,355.38 659.00,355.00C662.37,354.62 665.02,354.47 668.00,354.10C670.98,353.73 675.42,353.02 676.90,352.80" fill="none" stroke="#FFC000" stroke-width="2.0" stroke-dasharray="7.60,5.70" clip-path="url(#c4)"/>
<path d="M393.70,405.20C395.13,404.52 398.83,402.73 402.30,401.10C405.77,399.47 410.42,397.03 414.50,395.40C418.58,393.77 423.38,392.12 426.80,391.30C430.22,390.48 431.93,390.43 435.00,390.50C438.07,390.57 441.47,391.05 445.20,391.70C448.93,392.35 454.00,394.12 457.40,394.40C460.80,394.68 462.53,393.92 465.60,393.40C468.67,392.88 472.38,392.17 475.80,391.30C479.22,390.43 482.68,389.50 486.10,388.20C489.52,386.90 492.57,384.85 496.30,383.50C500.03,382.15 504.42,381.18 508.50,380.10C512.58,379.02 517.22,377.77 520.80,377.00C524.38,376.23 527.07,376.27 530.00,375.50C532.93,374.73 534.77,373.35 538.40,372.40C542.03,371.45 547.33,370.62 551.80,369.80C556.27,368.98 560.73,368.37 565.20,367.50C569.67,366.63 574.13,365.82 578.60,364.60C583.07,363.38 587.53,361.50 592.00,360.20C596.47,358.90 601.30,357.92 605.40,356.80C609.50,355.68 613.25,354.35 616.60,353.50C619.95,352.65 622.53,352.08 625.50,351.70C628.47,351.32 631.80,351.28 634.40,351.20C637.00,351.12 638.87,351.45 641.10,351.20C643.33,350.95 645.55,350.07 647.80,349.70C650.05,349.33 652.35,348.93 654.60,349.00C656.85,349.07 659.07,350.22 661.30,350.10C663.53,349.98 665.40,348.67 668.00,348.30C670.60,347.93 675.42,347.97 676.90,347.90" fill="none" stroke="#000000" stroke-width="2.0" stroke-dasharray="5.70,1.90" clip-path="url(#c4)"/>
<rect x="393.3" y="294.5" width="282.90000000000003" height="198.2" fill="none" stroke="#404040" stroke-width="1.6" rx="0.8"/>
<text x="393.30" y="510.7" class="t" text-anchor="middle">6.5</text>
<text x="440.45" y="510.7" class="t" text-anchor="middle">7</text>
<text x="487.60" y="510.7" class="t" text-anchor="middle">7.5</text>
<text x="534.75" y="510.7" class="t" text-anchor="middle">8</text>
<text x="581.90" y="510.7" class="t" text-anchor="middle">8.5</text>
<text x="629.05" y="510.7" class="t" text-anchor="middle">9</text>
<text x="676.20" y="510.7" class="t" text-anchor="middle">9.5</text>
<text x="382.8" y="298.60" class="t" text-anchor="end">0</text>
<text x="382.8" y="348.15" class="t" text-anchor="end">-5</text>
<text x="382.8" y="397.70" class="t" text-anchor="end">-10</text>
<text x="382.8" y="447.25" class="t" text-anchor="end">-15</text>
<text x="382.8" y="496.80" class="t" text-anchor="end">-20</text>
<text x="523.4" y="521.1" class="t" text-anchor="middle">Frequency (GHz)</text>
<text transform="translate(361,403.7) rotate(-90)" class="yt" text-anchor="middle">|S21| (dB)</text>
<text x="496.8" y="560.5" class="cap" text-anchor="middle">(d)</text>
<clipPath id="c5"><rect x="46.5" y="583.7" width="279.5" height="195.0"/></clipPath>
<line x1="46.50" y1="583.7" x2="46.50" y2="778.7" stroke="#d9d9d9" stroke-width="1.3"/>
<line x1="93.08" y1="583.7" x2="93.08" y2="778.7" stroke="#d9d9d9" stroke-width="1.3"/>
<line x1="139.67" y1="583.7" x2="139.67" y2="778.7" stroke="#d9d9d9" stroke-width="1.3"/>
<line x1="186.25" y1="583.7" x2="186.25" y2="778.7" stroke="#d9d9d9" stroke-width="1.3"/>
<line x1="232.83" y1="583.7" x2="232.83" y2="778.7" stroke="#d9d9d9" stroke-width="1.3"/>
<line x1="279.42" y1="583.7" x2="279.42" y2="778.7" stroke="#d9d9d9" stroke-width="1.3"/>
<line x1="326.00" y1="583.7" x2="326.00" y2="778.7" stroke="#d9d9d9" stroke-width="1.3"/>
<line x1="46.5" y1="601.20" x2="326" y2="601.20" stroke="#d9d9d9" stroke-width="1.3"/>
<line x1="46.5" y1="636.70" x2="326" y2="636.70" stroke="#d9d9d9" stroke-width="1.3"/>
<line x1="46.5" y1="672.20" x2="326" y2="672.20" stroke="#d9d9d9" stroke-width="1.3"/>
<line x1="46.5" y1="707.70" x2="326" y2="707.70" stroke="#d9d9d9" stroke-width="1.3"/>
<line x1="46.5" y1="743.20" x2="326" y2="743.20" stroke="#d9d9d9" stroke-width="1.3"/>
<line x1="46.5" y1="778.70" x2="326" y2="778.70" stroke="#d9d9d9" stroke-width="1.3"/>
<line x1="185.2" y1="589" x2="235" y2="589" stroke="#000000" stroke-width="2.0" stroke-dasharray="5.70,1.90"/>
<text x="239.2" y="593.30" class="t">60-j40 Ω<tspan dx="-1.2">/</tspan><tspan class="sq" dx="-0.3">□</tspan></text>
<line x1="185.2" y1="610.5" x2="235" y2="610.5" stroke="#FFC000" stroke-width="2.0" stroke-dasharray="7.60,5.70"/>
<text x="239.2" y="614.80" class="t">120-j60 Ω<tspan dx="-1.2">/</tspan><tspan class="sq" dx="-0.3">□</tspan></text>
<line x1="185.2" y1="633.2" x2="235" y2="633.2" stroke="#70AD47" stroke-width="2.0" stroke-dasharray="7.60,5.70,1.90,5.70"/>
<text x="239.2" y="637.50" class="t">200-j80 Ω<tspan dx="-1.2">/</tspan><tspan class="sq" dx="-0.3">□</tspan></text>
<line x1="185.2" y1="654.7" x2="235" y2="654.7" stroke="#C00000" stroke-width="2.0" stroke-dasharray="7.60,5.70"/>
<text x="239.2" y="659.00" class="t">400-j140 Ω<tspan dx="-1.2">/</tspan><tspan class="sq" dx="-0.3">□</tspan></text>
<line x1="185.2" y1="677.3" x2="235" y2="677.3" stroke="#5B9BD5" stroke-width="2.0" stroke-dasharray="5.70,1.90"/>
<text x="239.2" y="681.60" class="t">600-j200 Ω<tspan dx="-1.2">/</tspan><tspan class="sq" dx="-0.3">□</tspan></text>
<path d="M47.50,583.80L320.70,767.50" fill="none" stroke="#000000" stroke-width="2.0" stroke-dasharray="5.70,1.90" clip-path="url(#c5)"/>
<path d="M46.60,594.40L317.70,770.80" fill="none" stroke="#FFC000" stroke-width="2.0" stroke-dasharray="7.60,5.70" clip-path="url(#c5)"/>
<path d="M46.60,597.50L318.90,776.60" fill="none" stroke="#70AD47" stroke-width="2.0" stroke-dasharray="7.60,5.70,1.90,5.70" clip-path="url(#c5)"/>
<path d="M46.60,598.40L321.20,780.10" fill="none" stroke="#C00000" stroke-width="2.0" stroke-dasharray="7.60,5.70" clip-path="url(#c5)"/>
<path d="M46.60,599.00L317.70,780.10" fill="none" stroke="#5B9BD5" stroke-width="2.0" stroke-dasharray="5.70,1.90" clip-path="url(#c5)"/>
<rect x="46.5" y="583.7" width="279.5" height="195.0" fill="none" stroke="#404040" stroke-width="1.6" rx="0.8"/>
<text x="46.50" y="797" class="t" text-anchor="middle">6.5</text>
<text x="93.08" y="797" class="t" text-anchor="middle">7</text>
<text x="139.67" y="797" class="t" text-anchor="middle">7.5</text>
<text x="186.25" y="797" class="t" text-anchor="middle">8</text>
<text x="232.83" y="797" class="t" text-anchor="middle">8.5</text>
<text x="279.42" y="797" class="t" text-anchor="middle">9</text>
<text x="326.00" y="797" class="t" text-anchor="middle">9.5</text>
<text x="36" y="605.30" class="t" text-anchor="end">-200</text>
<text x="36" y="640.80" class="t" text-anchor="end">-300</text>
<text x="36" y="676.30" class="t" text-anchor="end">-400</text>
<text x="36" y="711.80" class="t" text-anchor="end">-500</text>
<text x="36" y="747.30" class="t" text-anchor="end">-600</text>
<text x="36" y="782.80" class="t" text-anchor="end">-700</text>
<text x="187" y="811.1" class="t" text-anchor="middle">Frequency (GHz)</text>
<g transform="translate(9.3,722.2) rotate(-90)"><path d="M5.2,-6.8 L0.2,-0.4 L7.2,-0.4" fill="none" stroke="#000" stroke-width="1.15"/><text x="10.3" y="0" class="yt" style="font-size:12.5px">S21 (degrees)</text></g>
<text x="229" y="849.5" class="cap" text-anchor="middle">(e)</text>
<clipPath id="c6"><rect x="399.7" y="584.6" width="276.50000000000006" height="196.39999999999998"/></clipPath>
<line x1="399.70" y1="584.6" x2="399.70" y2="781" stroke="#d9d9d9" stroke-width="1.3"/>
<line x1="491.90" y1="584.6" x2="491.90" y2="781" stroke="#d9d9d9" stroke-width="1.3"/>
<line x1="584.00" y1="584.6" x2="584.00" y2="781" stroke="#d9d9d9" stroke-width="1.3"/>
<line x1="676.20" y1="584.6" x2="676.20" y2="781" stroke="#d9d9d9" stroke-width="1.3"/>
<line x1="399.7" y1="611.60" x2="676.2" y2="611.60" stroke="#d9d9d9" stroke-width="1.3"/>
<line x1="399.7" y1="645.48" x2="676.2" y2="645.48" stroke="#d9d9d9" stroke-width="1.3"/>
<line x1="399.7" y1="679.36" x2="676.2" y2="679.36" stroke="#d9d9d9" stroke-width="1.3"/>
<line x1="399.7" y1="713.24" x2="676.2" y2="713.24" stroke="#d9d9d9" stroke-width="1.3"/>
<line x1="399.7" y1="747.12" x2="676.2" y2="747.12" stroke="#d9d9d9" stroke-width="1.3"/>
<line x1="399.7" y1="781.00" x2="676.2" y2="781.00" stroke="#d9d9d9" stroke-width="1.3"/>
<line x1="555.3" y1="594.8" x2="605" y2="594.8" stroke="#5B9BD5" stroke-width="2.0" stroke-dasharray="5.70,1.90"/>
<text x="609.8" y="599.10" class="t">0 V</text>
<line x1="555.3" y1="614.6" x2="605" y2="614.6" stroke="#C00000" stroke-width="2.0" stroke-dasharray="5.70,1.90"/>
<text x="609.8" y="618.90" class="t">1.5 V</text>
<line x1="555.3" y1="634.3" x2="605" y2="634.3" stroke="#70AD47" stroke-width="2.0" stroke-dasharray="7.60,5.70,1.90,5.70"/>
<text x="609.8" y="638.60" class="t">2.5 V</text>
<line x1="555.3" y1="654.3" x2="605" y2="654.3" stroke="#FFC000" stroke-width="2.0" stroke-dasharray="7.60,5.70"/>
<text x="609.8" y="658.60" class="t">4.5 V</text>
<line x1="555.3" y1="674" x2="605" y2="674" stroke="#000000" stroke-width="2.0" stroke-dasharray="5.70,1.90"/>
<text x="609.8" y="678.30" class="t">6.2 V</text>
<path d="M399.80,600.00C402.42,602.00 409.97,608.00 415.50,612.00C421.03,616.00 426.87,619.67 433.00,624.00C439.13,628.33 446.73,634.00 452.30,638.00C457.87,642.00 461.92,644.87 466.40,648.00C470.88,651.13 475.12,654.05 479.20,656.80C483.28,659.55 487.00,662.13 490.90,664.50C494.80,666.87 498.52,668.48 502.60,671.00C506.68,673.52 510.83,676.37 515.40,679.60C519.97,682.83 525.62,687.33 530.00,690.40C534.38,693.47 537.80,695.47 541.70,698.00C545.60,700.53 549.52,702.97 553.40,705.60C557.28,708.23 561.12,711.27 565.00,713.80C568.88,716.33 573.18,718.57 576.70,720.80C580.22,723.03 582.12,724.52 586.10,727.20C590.08,729.88 596.23,734.07 600.60,736.90C604.97,739.73 608.22,741.62 612.30,744.20C616.38,746.78 619.37,748.93 625.10,752.40C630.83,755.87 639.02,760.28 646.70,765.00C654.38,769.72 667.12,778.08 671.20,780.70" fill="none" stroke="#5B9BD5" stroke-width="2.0" stroke-dasharray="5.70,1.90" clip-path="url(#c6)"/>
<path d="M399.80,599.30C400.23,599.70 399.78,599.70 402.40,601.70C405.02,603.70 410.40,607.72 415.50,611.30C420.60,614.88 426.87,618.88 433.00,623.20C439.13,627.52 446.73,633.22 452.30,637.20C457.87,641.18 461.92,643.98 466.40,647.10C470.88,650.22 475.12,653.17 479.20,655.90C483.28,658.63 487.00,661.17 490.90,663.50C494.80,665.83 498.52,667.38 502.60,669.90C506.68,672.42 510.83,675.47 515.40,678.60C519.97,681.73 525.62,685.85 530.00,688.70C534.38,691.55 537.80,693.17 541.70,695.70C545.60,698.23 549.52,701.27 553.40,703.90C557.28,706.53 561.12,709.17 565.00,711.50C568.88,713.83 573.18,715.67 576.70,717.90C580.22,720.13 582.02,722.07 586.10,724.90C590.18,727.73 596.75,732.02 601.20,734.90C605.65,737.78 608.83,739.68 612.80,742.20C616.77,744.72 619.35,746.45 625.00,750.00C630.65,753.55 638.12,758.28 646.70,763.50C655.28,768.72 671.53,778.33 676.50,781.30" fill="none" stroke="#C00000" stroke-width="2.0" stroke-dasharray="5.70,1.90" clip-path="url(#c6)"/>
<path d="M399.80,599.30C400.23,599.70 399.78,599.70 402.40,601.70C405.02,603.70 410.40,607.72 415.50,611.30C420.60,614.88 426.87,618.88 433.00,623.20C439.13,627.52 446.73,633.22 452.30,637.20C457.87,641.18 461.92,643.98 466.40,647.10C470.88,650.22 475.12,653.17 479.20,655.90C483.28,658.63 487.00,661.17 490.90,663.50C494.80,665.83 498.52,667.38 502.60,669.90C506.68,672.42 510.83,675.50 515.40,678.60C519.97,681.70 525.03,685.37 530.00,688.50C534.97,691.63 539.95,694.15 545.20,697.40C550.45,700.65 555.87,704.30 561.50,708.00C567.13,711.70 573.15,715.82 579.00,719.60C584.85,723.38 590.57,726.90 596.60,730.70C602.63,734.50 610.55,739.47 615.20,742.40C619.85,745.33 621.58,746.63 624.50,748.30C627.42,749.97 628.02,749.82 632.70,752.40C637.38,754.98 645.98,759.67 652.60,763.80C659.22,767.93 668.42,774.58 672.40,777.20C676.38,779.82 675.82,779.12 676.50,779.50" fill="none" stroke="#70AD47" stroke-width="2.0" stroke-dasharray="7.60,5.70,1.90,5.70" clip-path="url(#c6)"/>
<path d="M400.20,592.50C404.33,595.50 416.50,604.32 425.00,610.50C433.50,616.68 444.70,625.05 451.20,629.60C457.70,634.15 459.92,635.13 464.00,637.80C468.08,640.47 472.00,643.07 475.70,645.60C479.40,648.13 482.50,650.60 486.20,653.00C489.90,655.40 494.20,657.67 497.90,660.00C501.60,662.33 504.70,664.67 508.40,667.00C512.10,669.33 516.50,671.65 520.10,674.00C523.70,676.35 526.22,678.65 530.00,681.10C533.78,683.55 538.90,686.37 542.80,688.70C546.70,691.03 549.70,692.77 553.40,695.10C557.10,697.43 561.12,700.17 565.00,702.70C568.88,705.23 573.00,707.87 576.70,710.30C580.40,712.73 583.22,714.92 587.20,717.30C591.18,719.68 596.72,722.35 600.60,724.60C604.48,726.85 607.20,728.70 610.50,730.80C613.80,732.90 616.70,734.67 620.40,737.20C624.10,739.73 627.93,742.48 632.70,746.00C637.47,749.52 641.70,753.10 649.00,758.30C656.30,763.50 671.92,774.05 676.50,777.20" fill="none" stroke="#FFC000" stroke-width="2.0" stroke-dasharray="7.60,5.70" clip-path="url(#c6)"/>
<path d="M400.50,587.20C403.00,589.03 410.08,594.20 415.50,598.20C420.92,602.20 427.05,606.75 433.00,611.20C438.95,615.65 445.83,621.25 451.20,624.90C456.57,628.55 460.53,630.37 465.20,633.10C469.87,635.83 474.92,638.67 479.20,641.30C483.48,643.93 487.00,646.28 490.90,648.90C494.80,651.52 498.52,654.25 502.60,657.00C506.68,659.75 510.83,662.35 515.40,665.40C519.97,668.45 525.62,672.40 530.00,675.30C534.38,678.20 537.80,680.28 541.70,682.80C545.60,685.32 549.52,687.80 553.40,690.40C557.28,693.00 561.12,695.77 565.00,698.40C568.88,701.03 572.87,703.68 576.70,706.20C580.53,708.72 584.12,710.87 588.00,713.50C591.88,716.13 596.05,719.22 600.00,722.00C603.95,724.78 607.62,727.33 611.70,730.20C615.78,733.07 620.22,736.18 624.50,739.20C628.78,742.22 633.32,745.27 637.40,748.30C641.48,751.33 644.53,754.13 649.00,757.40C653.47,760.67 659.72,764.98 664.20,767.90C668.68,770.82 673.95,773.73 675.90,774.90" fill="none" stroke="#000000" stroke-width="2.0" stroke-dasharray="5.70,1.90" clip-path="url(#c6)"/>
<rect x="399.7" y="584.6" width="276.50000000000006" height="196.39999999999998" fill="none" stroke="#404040" stroke-width="1.6" rx="0.8"/>
<text x="399.70" y="798.2" class="t" text-anchor="middle">6.5</text>
<text x="491.90" y="798.2" class="t" text-anchor="middle">7.5</text>
<text x="584.00" y="798.2" class="t" text-anchor="middle">8.5</text>
<text x="676.20" y="798.2" class="t" text-anchor="middle">9.5</text>
<text x="389" y="615.70" class="t" text-anchor="end">-200</text>
<text x="389" y="649.58" class="t" text-anchor="end">-300</text>
<text x="389" y="683.46" class="t" text-anchor="end">-400</text>
<text x="389" y="717.34" class="t" text-anchor="end">-500</text>
<text x="389" y="751.22" class="t" text-anchor="end">-600</text>
<text x="389" y="785.10" class="t" text-anchor="end">-700</text>
<text x="535.7" y="810.2" class="t" text-anchor="middle">Frequency (GHz)</text>
<g transform="translate(361.4,736.2) rotate(-90)"><path d="M5.2,-6.8 L0.2,-0.4 L7.2,-0.4" fill="none" stroke="#000" stroke-width="1.15"/><text x="10.3" y="0" class="yt" style="font-size:12.5px">S21 (degrees)</text></g>
<text x="462.4" y="849.3" class="cap" text-anchor="middle">(f)</text>
</svg></body></html>
